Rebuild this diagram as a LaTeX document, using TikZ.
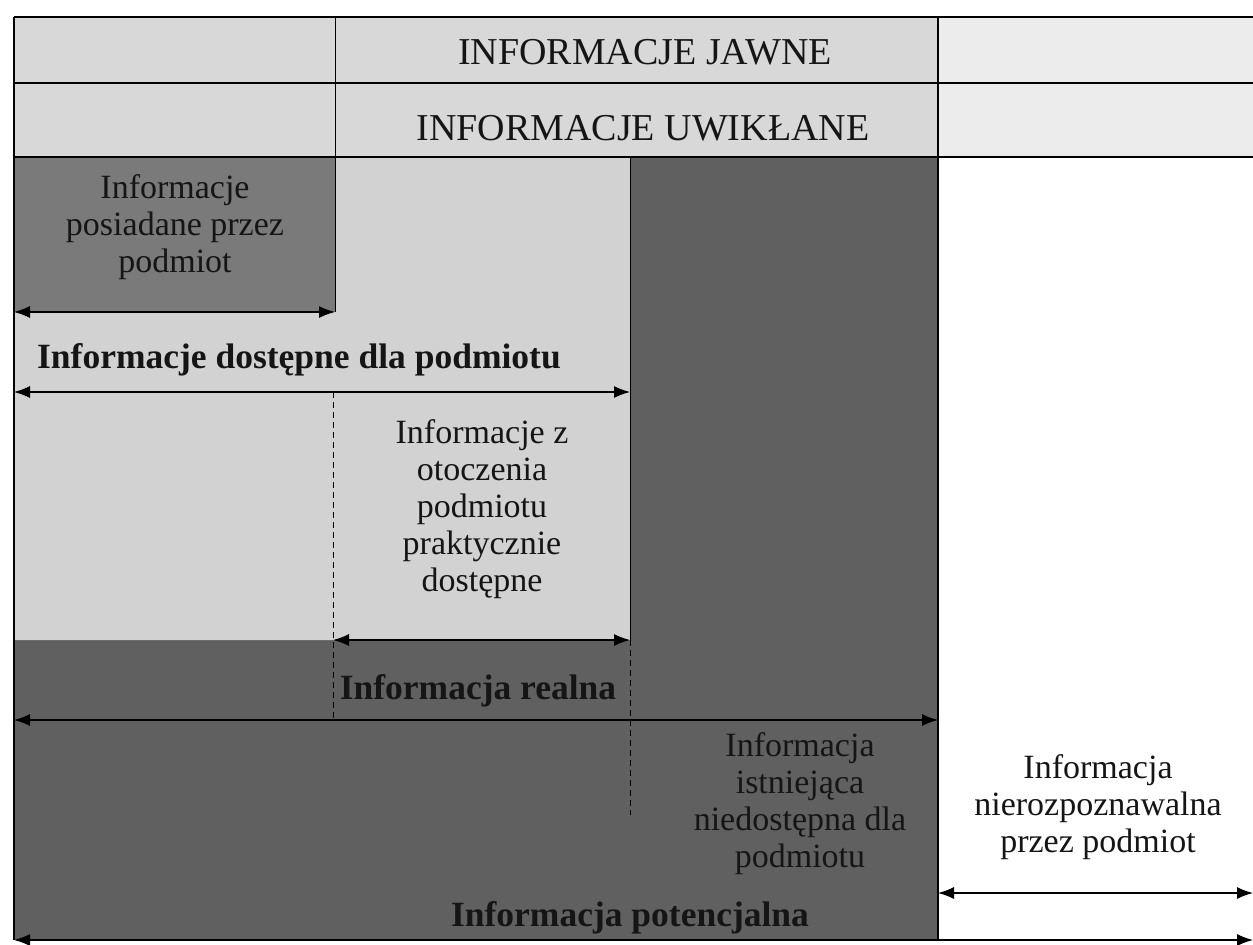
\documentclass[tikz,border=0pt]{standalone}
\usepackage{fontspec}
\setmainfont{Liberation Serif}
\usetikzlibrary{arrows.meta}

\definecolor{paleband}{HTML}{ECECEC}
\definecolor{lightcell}{HTML}{D8D8D8}
\definecolor{lightzone}{HTML}{D2D2D2}
\definecolor{midzone}{HTML}{7A7A7A}
\definecolor{darkzone}{HTML}{606060}
\definecolor{inkdark}{HTML}{151515}

\tikzset{
  frameline/.style={draw=black, line width=1.5pt},
  thinline/.style={draw=black, line width=1pt},
  dashline/.style={draw=black, line width=0.8pt, dash pattern=on 6pt off 4pt},
  span/.style={line width=1.2pt, {Latex[length=16pt,width=12pt]}-{Latex[length=16pt,width=12pt]}},
  lbl/.style={align=center, inner sep=0pt, font=\fontsize{34}{37}\selectfont, text=inkdark},
  caplbl/.style={lbl, font=\fontsize{38}{40}\selectfont},
  blbl/.style={lbl, font=\fontsize{35.5}{37}\selectfont\bfseries},
}

\begin{document}
\begin{tikzpicture}[x=1pt, y=-1pt]
  \useasboundingbox (0,0) rectangle (1253,945);
  \fill[white] (0,0) rectangle (1253,945);

  % header bands
  \fill[lightcell] (14,17) rectangle (938,157);
  \fill[paleband] (938,17) rectangle (1253,157);

  % dark region: potential information
  \fill[darkzone] (14,157) rectangle (938,940);
  % medium box: information held by the subject
  \fill[midzone] (14,157) rectangle (335,312);
  % light region: information available to the subject
  \fill[lightzone] (335,157) -- (630,157) -- (630,640) -- (14,640) -- (14,312) -- (335,312) -- cycle;

  % grid lines
  \draw[frameline] (14,17) -- (1253,17);
  \draw[frameline] (14,83) -- (1253,83);
  \draw[frameline] (14,157) -- (1253,157);
  \draw[frameline] (14,17) -- (14,940);
  \draw[frameline] (938,17) -- (938,940);
  \draw[thinline] (335,17) -- (335,312);
  \draw[thinline] (630,157) -- (630,640);

  % dashed boundaries
  \draw[dashline] (333,392) -- (333,720);
  \draw[dashline] (630,640) -- (630,815);

  % arrow end points
  \coordinate (a1l) at (14,312);   \coordinate (a1r) at (335,312);
  \coordinate (a2l) at (14,392);   \coordinate (a2r) at (630,392);
  \coordinate (a3l) at (333,640);  \coordinate (a3r) at (630,640);
  \coordinate (a4l) at (14,720);   \coordinate (a4r) at (938,720);
  \coordinate (a5l) at (938,893);  \coordinate (a5r) at (1253,893);
  \coordinate (a6l) at (14,940);   \coordinate (a6r) at (1253,940);

  \draw[span] (a1l) -- (a1r);
  \draw[span] (a2l) -- (a2r);
  \draw[span] (a3l) -- (a3r);
  \draw[span] (a4l) -- (a4r);
  \draw[span] (a5l) -- (a5r);
  \draw[span] (a6l) -- (a6r);

  % labels
  \node[caplbl] (jawne) at (645,52) {INFORMACJE JAWNE};
  \node[caplbl] (uwiklane) at (643,128) {INFORMACJE UWIKŁANE};
  \node[lbl] (posiadane) at (175,227) {Informacje\\posiadane przez\\podmiot};
  \node[blbl, anchor=base] (dostepne) at (299,368) {Informacje dostępne dla podmiotu};
  \node[lbl] (otoczenie) at (482,509) {Informacje z\\otoczenia\\podmiotu\\praktycznie\\dostępne};
  \node[blbl, anchor=base] (realna) at (478,699) {Informacja realna};
  \node[lbl] (niedostepna) at (800,804) {Informacja\\istniejąca\\niedostępna dla\\podmiotu};
  \node[blbl, anchor=base] (potencjalna) at (630,926) {Informacja potencjalna};
  \node[lbl] (nierozpoznawalna) at (1098,807) {Informacja\\nierozpoznawalna\\przez podmiot};
\end{tikzpicture}
\end{document}
